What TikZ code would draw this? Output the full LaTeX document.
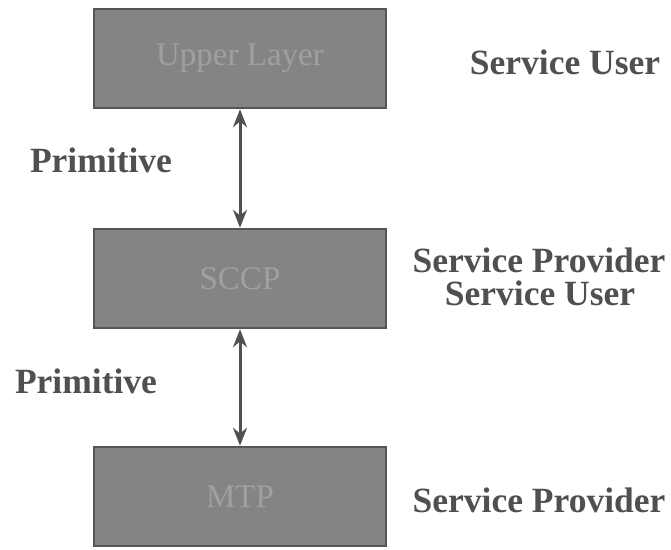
\documentclass[tikz,border=0pt]{standalone}
\usepackage{fontspec}
\setmainfont{Liberation Serif}
\usepackage{tikz}
\usetikzlibrary{arrows.meta}

\definecolor{layerfill}{RGB}{132,132,132}
\definecolor{layeredge}{RGB}{85,85,85}
\definecolor{layertext}{RGB}{160,160,160}
\definecolor{labeltext}{RGB}{80,80,80}

\tikzset{
  layer/.style={draw=layeredge, line width=2.5pt, fill=layerfill, minimum width=292pt, minimum height=99pt, inner sep=0pt, text=layertext, font=\fontsize{33}{38}\selectfont},
  role/.style={text=labeltext, inner sep=0pt, font=\bfseries\fontsize{35.5}{40}\selectfont},
  prim/.style={draw=labeltext, line width=3pt, {Stealth[length=18pt,width=14pt]}-{Stealth[length=18pt,width=14pt]}}
}

\begin{document}
\begin{tikzpicture}[x=1pt,y=1pt,yscale=-1,xscale=1]
\useasboundingbox (0,0) rectangle (671,549);

%Layers
\node [layer] (upper) at (240,58.5) {Upper Layer};
\node [layer] (sccp) at (240,278.5) {SCCP};
\node [layer] (mtp) at (240,496.5) {MTP};

%Primitives between layers
\draw [prim] (upper.south) -- (sccp.north);
\draw [prim] (sccp.south) -- (mtp.north);

% Text Node
\node [role] (prima) at (101,160) {Primitive};
% Text Node
\node [role] (primb) at (86,381) {Primitive};
% Text Node
\node [role] (usera) at (565,62) {Service User};
% Text Node
\node [role] (provb) at (539,260) {Service Provider};
% Text Node
\node [role] (userb) at (540,293) {Service User};
% Text Node
\node [role] (provc) at (539,500) {Service Provider};

\end{tikzpicture}
\end{document}
